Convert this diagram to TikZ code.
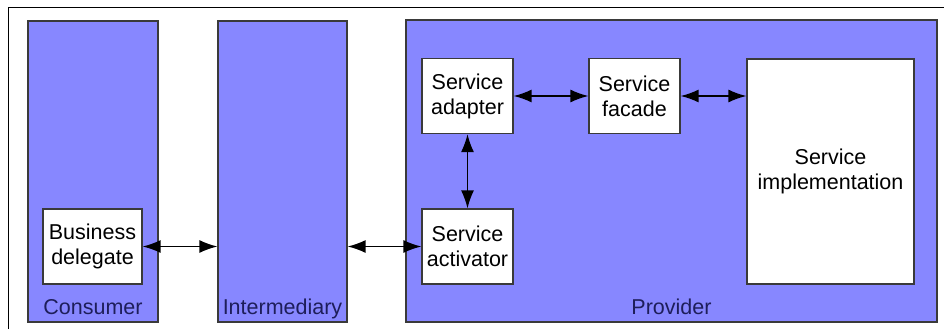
\documentclass[tikz,border=0pt]{standalone}
\usepackage{fontspec}
\setmainfont{Liberation Sans}
\usetikzlibrary{arrows.meta,positioning}
\definecolor{tierblue}{HTML}{8787FF}
\definecolor{tierborder}{HTML}{3A3A3A}
\definecolor{tiertext}{HTML}{1E1E5A}

\begin{document}
\begin{tikzpicture}[
    x=1pt, y=-1pt,
    font=\fontsize{21.5}{25}\selectfont,
    tier/.style={draw=tierborder, line width=1.3pt, fill=tierblue, inner sep=0pt},
    tierlabel/.style={anchor=south, inner sep=3pt, text depth=5pt, text=tiertext},
    part/.style={draw=tierborder, line width=1.3pt, fill=white, align=center,
      inner sep=0pt, minimum width=91pt, minimum height=75pt},
    link/.style={{Latex[length=18pt,width=13pt]}-{Latex[length=18pt,width=13pt]}, line width=1.4pt, black}
  ]
    \useasboundingbox (0,0) rectangle (944,329);
    % frame
    \draw[line width=1pt] (8,329) -- (8,8) -- (944,8);

    % tiers
    \node[tier, minimum width=130pt, minimum height=301pt,
      label={[tierlabel]south:Consumer}] (consumer) at (93,171.5) {};
    \node[tier, minimum width=129pt, minimum height=301pt,
      label={[tierlabel]south:Intermediary}] (intermediary) at (282.5,171.5) {};
    \node[tier, minimum width=531pt, minimum height=302pt,
      label={[tierlabel]south:Provider}] (provider) at (671.5,171) {};

    % parts
    \node[part, minimum width=99pt] (delegate) at (92.5,246.5) {Business\\delegate};
    \node[part] (adapter) at (467.5,96) {Service\\adapter};
    \node[part] (facade) at (634.5,96) {Service\\facade};
    \node[part] (activator) at (467.5,246.5) {Service\\activator};
    \node[part, minimum width=167pt, minimum height=225pt] (implementation) at (830.5,171.5) {Service\\implementation};

    % links
    \draw[link] (delegate.east) -- (intermediary.west |- delegate.east);
    \draw[link] (intermediary.east |- activator.west) -- (activator.west);
    \draw[link] (adapter.south) -- (activator.north);
    \draw[link] (adapter.east) -- (facade.west);
    \draw[link] (facade.east) -- (implementation.west |- facade.east);
\end{tikzpicture}
\end{document}
